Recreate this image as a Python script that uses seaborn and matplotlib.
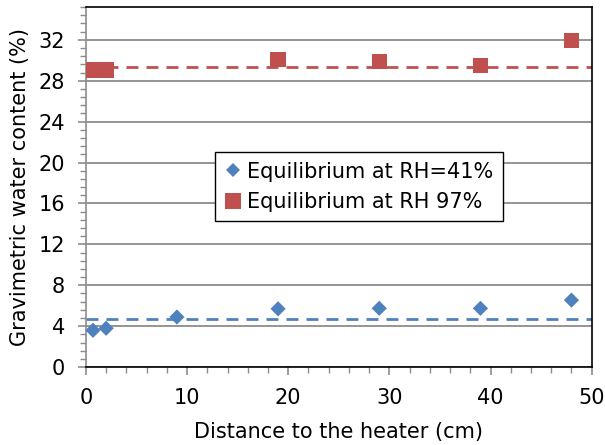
import matplotlib
matplotlib.use("Agg")
import matplotlib.pyplot as plt
import seaborn as sns
import pandas as pd
from matplotlib.ticker import MultipleLocator
from matplotlib.lines import Line2D

# ---- data ----
x_rh41 = [0.7, 2.0, 9.0, 19.0, 29.0, 39.0, 48.0]
y_rh41 = [3.6, 3.8, 4.9, 5.7, 5.75, 5.75, 6.55]
x_rh97 = [0.8, 2.0, 19.0, 29.0, 39.0, 48.0]
y_rh97 = [29.05, 29.05, 30.05, 29.9, 29.5, 31.95]
mean_rh41 = 4.7
mean_rh97 = 29.35
series_names = ["Equilibrium at RH=41%", "Equilibrium at RH 97%"]
x_ticks = [0, 10, 20, 30, 40, 50]
y_ticks = [0, 4, 8, 12, 16, 20, 24, 28, 32]
x_label = "Distance to the heater (cm)"
y_label = "Gravimetric water content (%)"

blue = "#4F81BD"
red = "#C0504D"

df = pd.DataFrame({
    "x": x_rh41 + x_rh97,
    "y": y_rh41 + y_rh97,
    "series": [series_names[0]] * len(x_rh41) + [series_names[1]] * len(x_rh97),
})

sns.set_theme(style="white")
plt.rcParams["font.family"] = ["DejaVu Sans"]
plt.rcParams["text.color"] = "black"

fs = 15

fig = plt.figure(figsize=(6.05, 4.45), dpi=100)
ax = fig.add_axes([0.142, 0.175, 0.836, 0.809])

ax.set_xlim(0, 50)
ax.set_ylim(0, 35.2)
ax.set_yticks(y_ticks)
ax.set_xticks(x_ticks)
ax.yaxis.set_minor_locator(MultipleLocator(0.8))
ax.xaxis.set_minor_locator(MultipleLocator(2))
ax.grid(axis="y", which="major", color="#8c8c8c", linewidth=1.3, zorder=0)
ax.set_axisbelow(True)

ax.axhline(mean_rh41, color=blue, linewidth=2.0, dashes=(4.3, 2.9), zorder=2)
ax.axhline(mean_rh97, color=red, linewidth=2.0, dashes=(4.3, 2.9), zorder=2)

sns.scatterplot(data=df, x="x", y="y", hue="series", style="series",
                palette={series_names[0]: blue, series_names[1]: red},
                markers={series_names[0]: "D", series_names[1]: "s"},
                size="series", sizes={series_names[0]: 60, series_names[1]: 120},
                linewidth=0, ax=ax, zorder=3, clip_on=False, legend=False)

for side in ["top", "right", "bottom"]:
    ax.spines[side].set_color("black")
    ax.spines[side].set_linewidth(1.2)
ax.spines["left"].set_color("#8c8c8c")
ax.spines["left"].set_linewidth(1.2)

ax.tick_params(axis="both", which="major", direction="out", length=6, width=1.2,
               color="#8c8c8c", labelsize=fs, left=True, bottom=True,
               labelcolor="black")
ax.tick_params(axis="y", which="major", pad=9)
ax.tick_params(axis="x", which="major", pad=9)
ax.tick_params(axis="both", which="minor", direction="out", length=4, width=1.0,
               color="#8c8c8c", left=True, bottom=True)

ax.set_xlabel(x_label, fontsize=fs, labelpad=10, color="black")
ax.set_ylabel(y_label, fontsize=fs, labelpad=6, color="black")

handles = [
    Line2D([], [], marker="D", linestyle="none", color=blue, markersize=7, markeredgewidth=0),
    Line2D([], [], marker="s", linestyle="none", color=red, markersize=11, markeredgewidth=0),
]
leg = ax.legend(handles, series_names, loc="upper left", bbox_to_anchor=(0.255, 0.597),
                frameon=True, fancybox=False, framealpha=1, edgecolor="black",
                fontsize=fs, handlelength=0.8, handletextpad=0.3, borderpad=0.45,
                labelspacing=0.5, borderaxespad=0)
leg.get_frame().set_linewidth(1.0)
for t in leg.get_texts():
    t.set_color("black")

fig.savefig("out.png", dpi=100)
